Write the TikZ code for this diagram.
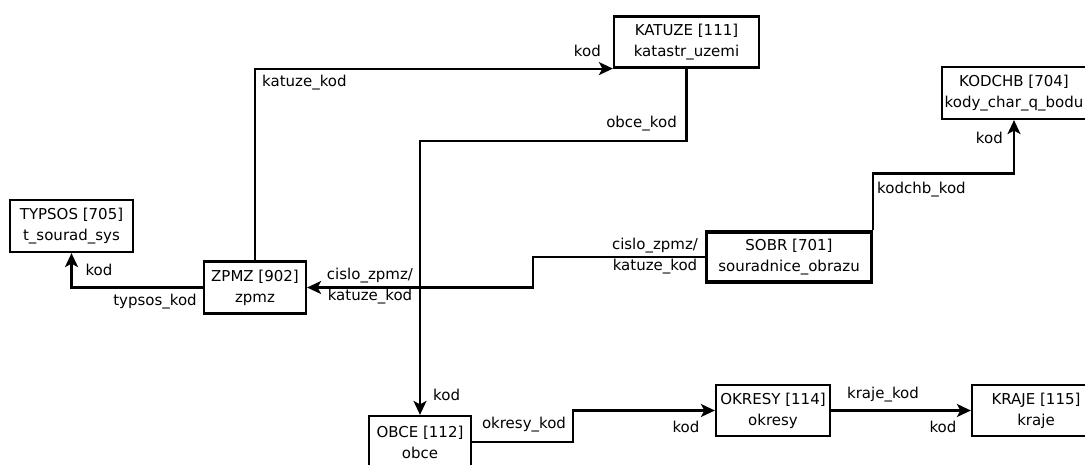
\documentclass[tikz,border=0pt]{standalone}
\usepackage{fontspec}
\setmainfont{DejaVu Sans}
\usetikzlibrary{arrows.meta}

\begin{document}
\begin{tikzpicture}[x=1pt, y=-1pt,
    tbl/.style={draw, line width=2.2pt, align=center, minimum height=52pt, inner sep=0pt, font=\fontsize{15}{21}\selectfont},
    fk/.style={line width=2.2pt, -{Stealth[length=14pt,width=13pt,inset=3.5pt]}},
    lbl/.style={inner sep=0pt, align=center, font=\fontsize{15}{21}\selectfont}]
    \useasboundingbox (0,0) rectangle (1085,464);

    \node[tbl, minimum width=123pt] (typsos) at (71.5,226) {TYPSOS [705]\\t\_sourad\_sys};
    \node[tbl, minimum width=102pt] (zpmz) at (255,287.5) {ZPMZ [902]\\zpmz};
    \node[tbl, minimum width=145pt, minimum height=51pt] (katuze) at (686.5,42) {KATUZE [111]\\katastr\_uzemi};
    \node[tbl, minimum width=144pt] (kodchb) at (1014,93) {KODCHB [704]\\kody\_char\_q\_bodu};
    \node[tbl, line width=3.2pt, minimum width=165pt, minimum height=50pt] (sobr) at (789,257) {SOBR [701]\\souradnice\_obrazu};
    \node[tbl, minimum width=102pt] (obce) at (420,442) {OBCE [112]\\obce};
    \node[tbl, minimum width=114pt, minimum height=51pt] (okresy) at (773,410.5) {OKRESY [114]\\okresy};
    \node[tbl, minimum width=128pt, minimum height=51pt] (kraje) at (1036,410.5) {KRAJE [115]\\kraje};

    \coordinate (sobrbend) at (533,272);
    \coordinate (obcebend) at (573,425);

    \draw[fk] (zpmz.north) |- (katuze.south west);
    \draw[fk] (katuze.south) -- ++(0,72) -| (obce.north);
    \draw[fk] (sobr.north east) -- ++(0,-57) -| (kodchb.south);
    \draw[fk] (sobr.west) -| (sobrbend) |- (zpmz.east);
    \draw[fk] (zpmz.west) -| (typsos.south);
    \draw[fk] (obce.east) -| (obcebend) |- (okresy.west);
    \draw[fk] (okresy.east) -- (kraje.west);

    % column names
    \node[lbl, anchor=east] (lkatuzekod) at (601,51) {kod};
    \node[lbl, anchor=west] (lzpmzkatuze) at (262,83) {katuze\_kod};
    \node[lbl, anchor=east] (lobcekod) at (677,124) {obce\_kod};
    \node[lbl, anchor=west] (lobcepk) at (433,395) {kod};
    \node[lbl, anchor=west] (lkodchbkod) at (877,190) {kodchb\_kod};
    \node[lbl, anchor=east] (lkodchbpk) at (1003,138) {kod};
    \node[lbl] (lsobrzpmz) at (655,256) {cislo\_zpmz/\\katuze\_kod};
    \node[lbl] (lzpmzpk) at (370,286) {cislo\_zpmz/\\katuze\_kod};
    \node[lbl] (ltypsospk) at (99,270) {kod};
    \node[lbl] (ltypsoskod) at (155,302) {typsos\_kod};
    \node[lbl] (lokresykod) at (524,425) {okresy\_kod};
    \node[lbl] (lokresypk) at (686,427) {kod};
    \node[lbl] (lkrajekod) at (883,395) {kraje\_kod};
    \node[lbl] (lkrajepk) at (943,427) {kod};
\end{tikzpicture}
\end{document}
